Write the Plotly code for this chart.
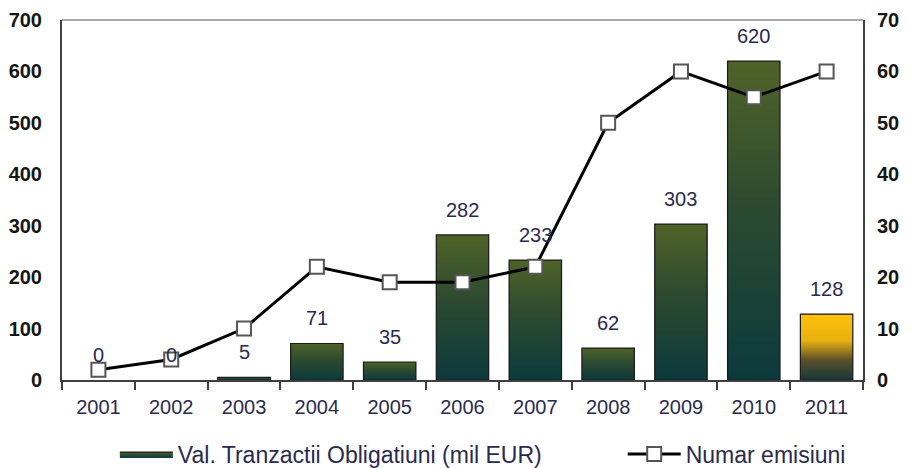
import plotly.graph_objects as go

years = ["2001", "2002", "2003", "2004", "2005", "2006", "2007", "2008", "2009", "2010", "2011"]
val_tranzactii = [0, 0, 5, 71, 35, 282, 233, 62, 303, 620, 128]
numar_emisiuni = [2, 4, 10, 22, 19, 19, 22, 50, 60, 55, 60]

bar_name = "Val. Tranzactii Obligatiuni (mil EUR)"
line_name = "Numar emisiuni"

FONT = "Arial, Liberation Sans, sans-serif"
TXT = "#2a2a50"
FS = 20
LFS = 23
BAR_W = 0.72
green_scale = [[0, "#0b3a3c"], [0.55, "#2d4a30"], [1, "#4f6328"]]
gold_scale = [[0, "#16383a"], [0.3, "#5a4f2a"], [0.6, "#e8b010"], [1, "#ffc20a"]]

xs = list(range(len(years)))
fig = go.Figure()

# base bar trace (data carrier)
fig.add_trace(go.Bar(
    x=xs, y=val_tranzactii, width=BAR_W, name=bar_name,
    marker=dict(color="#2d4a30", line=dict(width=0)),
    showlegend=False, yaxis="y",
))

# gradient-filled bars drawn over the base bars
first = True
for i, v in enumerate(val_tranzactii):
    if v <= 0:
        continue
    scale = gold_scale if i == len(years) - 1 else green_scale
    fig.add_trace(go.Scatter(
        x=[i - BAR_W / 2, i - BAR_W / 2, i + BAR_W / 2, i + BAR_W / 2, i - BAR_W / 2],
        y=[0, v, v, 0, 0],
        mode="lines", fill="toself",
        fillgradient=dict(type="vertical", colorscale=scale),
        line=dict(color="#1a1a1a", width=1.2),
        name=bar_name, legendgroup="bars", showlegend=first, legend="legend",
        hoverinfo="skip", yaxis="y",
    ))
    first = False

fig.add_trace(go.Scatter(
    x=xs, y=numar_emisiuni, name=line_name, yaxis="y2", legend="legend2",
    mode="lines+markers",
    line=dict(color="#000000", width=3),
    marker=dict(symbol="square", size=14, color="white", line=dict(color="#555555", width=2)),
))

for i, v in enumerate(val_tranzactii):
    fig.add_annotation(
        x=i, y=v, xref="x", yref="y", text=str(v), showarrow=False,
        yanchor="bottom", yshift=12,
        font=dict(family=FONT, size=FS, color=TXT),
    )

fig.update_layout(
    width=894, height=460,
    margin=dict(l=54, r=39, t=12, b=88, autoexpand=False),
    paper_bgcolor="white", plot_bgcolor="white",
    font=dict(family=FONT, size=FS, color=TXT),
    xaxis=dict(
        range=[-0.5, len(years) - 0.5],
        tickvals=xs, ticktext=years, ticks="",
        tickfont=dict(size=FS, color=TXT), ticklabelstandoff=8,
        showgrid=False, zeroline=False, automargin=False,
        showline=True, linecolor="#404040", linewidth=2,
        minor=dict(tickvals=[i - 0.5 for i in xs] + [xs[-1] + 0.5], ticks="outside",
                   ticklen=8, tickwidth=2, tickcolor="#404040"),
    ),
    yaxis=dict(
        range=[0, 700], dtick=100, showgrid=False, zeroline=False, automargin=False,
        showline=True, linecolor="#404040", linewidth=2,
        tickfont=dict(size=FS, color="#151515", weight="bold"),
        ticks="", ticklabelstandoff=14,
    ),
    yaxis2=dict(
        range=[0, 70], dtick=10, overlaying="y", side="right", automargin=False,
        showgrid=False, zeroline=False,
        showline=True, linecolor="#404040", linewidth=2,
        tickfont=dict(size=FS, color="#151515", weight="bold"),
        ticks="", ticklabelstandoff=8,
    ),
    legend=dict(
        orientation="h", x=0.066, xanchor="left", y=-0.206, yanchor="middle",
        font=dict(size=LFS, color=TXT), itemwidth=53,
        bgcolor="rgba(0,0,0,0)",
    ),
    legend2=dict(
        orientation="h", x=0.700, xanchor="left", y=-0.206, yanchor="middle",
        font=dict(size=LFS, color=TXT), itemwidth=53,
        bgcolor="rgba(0,0,0,0)",
    ),
    shapes=[dict(type="line", xref="paper", yref="paper", x0=0, x1=1, y0=1, y1=1,
                 line=dict(color="#a8a8a8", width=2))],
)

fig.write_html("out.html")
